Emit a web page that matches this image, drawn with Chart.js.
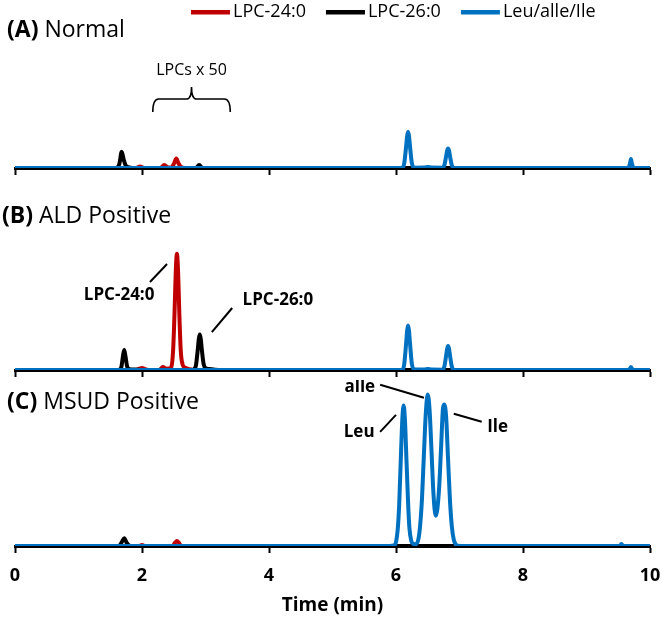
<!DOCTYPE html>
<html lang="en">
<head>
<meta charset="UTF-8">
<title>Chromatogrammes LPC / Leu</title>
<script src="https://cdn.jsdelivr.net/npm/chart.js"></script>
<style>
  html, body { margin: 0; padding: 0; background: #fff; overflow: hidden; }
  #wrap { position: relative; width: 664px; height: 617px; }
  #wrap canvas { position: absolute; left: 0; }
</style>
</head>
<body>
<div id="wrap">
  <canvas id="panelA" width="664" height="175" style="top:0px"></canvas>
  <canvas id="panelB" width="664" height="200" style="top:180px"></canvas>
  <canvas id="panelC" width="664" height="237" style="top:380px"></canvas>
</div>
<script>
// series + axis labels
const seriesNames = ['LPC-24:0', 'LPC-26:0', 'Leu/alle/Ile'];
const timeTicks = [0, 2, 4, 6, 8, 10];
const panelTags = ['(A)', '(B)', '(C)'];
const panelNames = ['Normal', 'ALD Positive', 'MSUD Positive'];

// [time (min), relative intensity]
const normalLPC24 = [[0,0],[1.90,0],[1.97,1.0],[2.04,0],[2.29,0],[2.35,2.0],[2.41,0.3],[2.47,0.6],[2.51,3.5],[2.54,6.2],[2.57,3.5],[2.61,0.8],[2.68,0],[10,0]];
const normalLPC26 = [[0,0],[1.60,0],[1.645,3],[1.68,10.7],[1.715,5],[1.75,1.2],[1.80,0.4],[1.88,0],[2.85,0],[2.90,2.0],[2.95,0],[10,0]];
const normalLeu = [[0,0],[6.10,0],[6.13,3.2],[6.16,14.5],[6.175,21],[6.19,23.8],[6.205,21],[6.22,14.5],[6.25,3.2],[6.29,0.2],[6.45,0.3],[6.50,0.7],[6.56,0.3],[6.73,0.2],[6.76,1.7],[6.79,7.9],[6.805,11.4],[6.82,12.9],[6.835,11.4],[6.85,7.9],[6.88,1.7],[6.92,0],[9.66,0],[9.685,3],[9.70,5.9],[9.715,3],[9.74,0],[10,0]];

const aldLPC24 = [[0,0],[1.90,0],[1.97,1.0],[2.00,1.3],[2.05,0.6],[2.12,0],[2.27,0],[2.33,2.0],[2.38,0.9],[2.43,1.0],[2.46,1.8],[2.49,13],[2.513,38.5],[2.53,63],[2.55,76.9],[2.57,63],[2.587,38.5],[2.61,13],[2.64,3.5],[2.68,1.5],[2.75,0.5],[2.85,0],[10,0]];
const aldLPC26 = [[0,0],[1.60,0],[1.645,0.2],[1.675,2],[1.70,9],[1.72,13.3],[1.74,9],[1.765,2.5],[1.80,0.6],[1.90,0.3],[2.00,0],[2.80,0],[2.82,0.3],[2.85,3.2],[2.88,14.3],[2.895,20.7],[2.91,23.5],[2.925,20.7],[2.94,14.3],[2.97,4],[3.00,1.2],[3.06,0.6],[3.15,0.2],[3.25,0],[10,0]];
const aldLeu = [[0,0],[6.10,0],[6.13,4],[6.16,18],[6.175,26],[6.19,29.4],[6.205,26],[6.22,18],[6.25,4],[6.29,0.3],[6.45,0.3],[6.50,0.7],[6.56,0.3],[6.73,0.2],[6.76,2.1],[6.79,9.7],[6.805,14],[6.82,15.9],[6.835,14],[6.85,9.7],[6.88,2.1],[6.92,0],[9.67,0],[9.70,2],[9.73,0],[10,0]];

const msudLPC24 = [[0,0],[1.95,0],[2.00,0.7],[2.05,0],[2.48,0],[2.52,2.2],[2.55,3.3],[2.58,2.2],[2.62,0],[10,0]];
const msudLPC26 = [[0,0],[1.64,0],[1.68,2.5],[1.72,5.2],[1.76,2],[1.80,0.3],[1.85,0],[10,0]];
const msudLeu = [[0,0],[5.90,0],[5.97,0.4],[6.00,2.6],[6.03,12.5],[6.05,27],[6.075,56.6],[6.10,84],[6.12,92.8],[6.14,84],[6.165,56.6],[6.19,29],[6.21,12.5],[6.24,3.5],[6.27,1.5],[6.31,1.2],[6.35,4],[6.38,13.5],[6.41,32],[6.44,61],[6.47,88],[6.50,100],[6.53,89],[6.56,62],[6.59,34.5],[6.625,20],[6.65,24],[6.68,39],[6.71,65],[6.74,91],[6.76,93.5],[6.79,85],[6.82,57],[6.85,30],[6.88,12.6],[6.91,4.1],[6.94,1],[6.98,0.2],[7.05,0],[9.52,0],[9.55,1.3],[9.58,0],[10,0]];

const colors = ['#c00000', '#000000', '#0070c0'];
const FONT = '"Open Sans", "Noto Sans", sans-serif';

// per-panel layout + annotations (annotation coords are in data units)
const panelCfg = {
  panelA: {
    idx: 0, series: [normalLPC24, normalLPC26, normalLeu], ymax: 80,
    pad: { top: 47, bottom: 0 }, labels: false, titleX: 7, titleY: 30, legend: true,
    notes: [{ text: 'LPCs x 50', x: 2.78, y: 64.8, bold: false, size: 16 }],
    lines: [],
    brace: { x1: 2.17, x2: 3.39, top: 53.6, mid: 45.6, end: 37 }
  },
  panelB: {
    idx: 1, series: [aldLPC24, aldLPC26, aldLeu], ymax: 80,
    pad: { top: 69, bottom: 3 }, labels: false, titleX: 2, titleY: 36, legend: false,
    notes: [
      { text: 'LPC-24:0', x: 1.64, y: 49.6, bold: true, size: 17 },
      { text: 'LPC-26:0', x: 4.14, y: 46.3, bold: true, size: 17 }
    ],
    lines: [[2.126, 58.2, 2.394, 70.1], [3.10, 25.1, 3.42, 41]]
  },
  panelC: {
    idx: 2, series: [msudLPC24, msudLPC26, msudLeu], ymax: 105,
    pad: { top: 7, bottom: 0 }, labels: true, titleX: 7, titleY: 22, legend: false,
    notes: [
      { text: 'alle', x: 5.43, y: 105.2, bold: true, size: 17 },
      { text: 'Leu', x: 5.42, y: 75.4, bold: true, size: 17 },
      { text: 'Ile', x: 7.60, y: 78.7, bold: true, size: 17 }
    ],
    lines: [[5.75, 106.5, 6.44, 97.9], [5.75, 75.4, 6.0, 86.6], [6.91, 87.3, 7.35, 82.0]]
  }
};

// titles, call-outs, brace and legend drawn on top of the traces
const decor = {
  id: 'decor',
  afterDraw(chart) {
    const cfg = panelCfg[chart.canvas.id];
    const ctx = chart.ctx, xs = chart.scales.x, ys = chart.scales.y;
    ctx.save();
    ctx.fillStyle = '#000';
    ctx.strokeStyle = '#000';
    ctx.textBaseline = 'middle';
    ctx.textAlign = 'left';

    // panel title: bold tag, plain name
    ctx.font = 'bold 23px ' + FONT;
    const tag = panelTags[cfg.idx];
    ctx.fillText(tag, cfg.titleX, cfg.titleY);
    let w = ctx.measureText(tag).width;
    ctx.font = '23px ' + FONT;
    w += ctx.measureText(' ').width;
    ctx.fillText(panelNames[cfg.idx], cfg.titleX + w, cfg.titleY);

    ctx.textAlign = 'center';
    cfg.notes.forEach(n => {
      ctx.font = (n.bold ? 'bold ' : '') + n.size + 'px ' + FONT;
      ctx.fillText(n.text, xs.getPixelForValue(n.x), ys.getPixelForValue(n.y));
    });

    ctx.lineWidth = 2;
    cfg.lines.forEach(l => {
      ctx.beginPath();
      ctx.moveTo(xs.getPixelForValue(l[0]), ys.getPixelForValue(l[1]));
      ctx.lineTo(xs.getPixelForValue(l[2]), ys.getPixelForValue(l[3]));
      ctx.stroke();
    });

    if (cfg.brace) {
      const b = cfg.brace;
      const x1 = xs.getPixelForValue(b.x1), x2 = xs.getPixelForValue(b.x2);
      const xc = (x1 + x2) / 2;
      const yt = ys.getPixelForValue(b.top), ym = ys.getPixelForValue(b.mid), ye = ys.getPixelForValue(b.end);
      ctx.lineWidth = 1.6;
      ctx.beginPath();
      ctx.moveTo(x1, ye);
      ctx.quadraticCurveTo(x1, ym, x1 + 6, ym);
      ctx.lineTo(xc - 5, ym);
      ctx.quadraticCurveTo(xc, ym, xc, yt);
      ctx.quadraticCurveTo(xc, ym, xc + 5, ym);
      ctx.lineTo(x2 - 6, ym);
      ctx.quadraticCurveTo(x2, ym, x2, ye);
      ctx.stroke();
    }

    if (cfg.legend) {
      ctx.font = '18px ' + FONT;
      ctx.textAlign = 'left';
      let x = 191;
      const y = 12;
      chart.data.datasets.forEach(ds => {
        ctx.fillStyle = ds.borderColor;
        ctx.fillRect(x, y - 2, 39, 4.5);
        ctx.fillStyle = '#000';
        ctx.fillText(ds.label, x + 42, y);
        x += 42 + ctx.measureText(ds.label).width + 20;
      });
    }
    ctx.restore();
  }
};

Object.keys(panelCfg).forEach(id => {
  const cfg = panelCfg[id];
  const ctx = document.getElementById(id).getContext('2d');
  new Chart(ctx, {
    type: 'line',
    data: {
      datasets: cfg.series.map((pts, i) => ({
        label: seriesNames[i],
        data: pts.map(p => ({ x: p[0], y: p[1] })),
        borderColor: colors[i],
        backgroundColor: colors[i],
        borderWidth: 4,
        pointRadius: 0,
        cubicInterpolationMode: 'monotone',
        order: 2 - i  // Leu/alle/Ile on top
      }))
    },
    options: {
      responsive: false,
      animation: false,
      layout: { padding: { left: 15, right: 14, top: cfg.pad.top, bottom: cfg.pad.bottom } },
      plugins: { legend: { display: false }, tooltip: { enabled: false } },
      scales: {
        x: {
          type: 'linear', min: 0, max: 10,
          afterBuildTicks: s => { s.ticks = timeTicks.map(v => ({ value: v })); },
          // keep the same plot width in every panel (labels fit in the side padding)
          afterFit: s => { s.paddingLeft = 0; s.paddingRight = 0; },
          ticks: { display: cfg.labels, color: '#000', padding: 12, maxRotation: 0, autoSkip: false,
                   font: { family: FONT, size: 18, weight: 'bold' } },
          grid: { display: true, drawOnChartArea: false, drawTicks: true, tickLength: 7, tickWidth: 2, tickColor: '#000' },
          border: { display: true, color: '#000', width: 3 },
          title: { display: cfg.labels, text: 'Time (min)', color: '#000', padding: { top: -4.4, bottom: 0 },
                   font: { family: FONT, size: 19, weight: 'bold' } }
        },
        y: { display: false, min: 0, max: cfg.ymax }
      }
    },
    plugins: [decor]
  });
});
</script>
</body>
</html>
